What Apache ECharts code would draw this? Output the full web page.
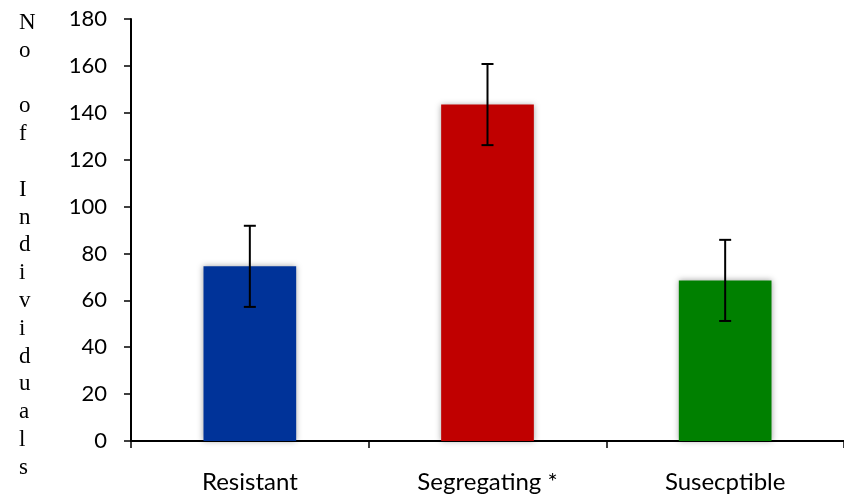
<!DOCTYPE html>
<html>
<head>
<meta charset="utf-8">
<script src="https://cdn.jsdelivr.net/npm/echarts@6/dist/echarts.min.js"></script>
<style>
  html, body { margin: 0; padding: 0; background: #fff; }
  #chart { width: 844px; height: 498px; }
</style>
</head>
<body>
<div id="chart"></div>
<script>
// categories and values
const categories = ['Resistant', 'Segregating *', 'Susecptible'];
const counts = [74.5, 143.5, 68.5];
const errors = [17.3, 17.3, 17.3];
const barColors = ['#003399', '#C00000', '#008000'];
const yTitle = ['N', 'o', '', 'o', 'f', '', 'I', 'n', 'd', 'i', 'v', 'i', 'd', 'u', 'a', 'l', 's'];

const chart = echarts.init(document.getElementById('chart'));

// error bar data: [index, low, high]
const errorData = counts.map((v, i) => [i, v - errors[i], v + errors[i]]);

const option = {
  animation: false,
  title: {
    text: yTitle.join('\n'),
    left: 14,
    top: 4,
    textStyle: {
      fontFamily: '"Liberation Serif", "DejaVu Serif", serif',
      fontSize: 23,
      fontWeight: 'normal',
      color: '#000',
      lineHeight: 27.8,
    },
  },
  grid: {
    left: 131,
    right: -7,
    top: 19,
    bottom: 57,
  },
  xAxis: {
    type: 'category',
    data: categories,
    axisLine: { lineStyle: { color: '#000', width: 2 } },
    axisTick: { show: true, length: 7, lineStyle: { color: '#000', width: 1.5 } },
    axisLabel: {
      color: '#000',
      fontFamily: 'Lato, sans-serif',
      fontSize: 24,
      margin: 29,
    },
  },
  yAxis: {
    type: 'value',
    min: 0,
    max: 180,
    interval: 20,
    axisLine: { show: true, lineStyle: { color: '#000', width: 2 } },
    axisTick: { show: true, length: 7, lineStyle: { color: '#000', width: 1.5 } },
    splitLine: { show: false },
    axisLabel: {
      color: '#000',
      fontFamily: 'Lato, sans-serif',
      fontSize: 22,
      margin: 24,
    },
  },
  series: [
    {
      type: 'bar',
      barWidth: '39%',
      data: counts.map((v, i) => ({
        value: v,
        itemStyle: {
          color: barColors[i],
          shadowColor: 'rgba(0, 0, 0, 0.35)',
          shadowBlur: 6,
        },
      })),
    },
    {
      type: 'custom',
      data: errorData,
      z: 10,
      renderItem: (params, api) => {
        const idx = api.value(0);
        const low = api.coord([idx, api.value(1)]);
        const high = api.coord([idx, api.value(2)]);
        const half = 6;
        const style = { stroke: '#000', lineWidth: 2 };
        return {
          type: 'group',
          children: [
            { type: 'line', shape: { x1: high[0], y1: high[1], x2: low[0], y2: low[1] }, style },
            { type: 'line', shape: { x1: high[0] - half, y1: high[1], x2: high[0] + half, y2: high[1] }, style },
            { type: 'line', shape: { x1: low[0] - half, y1: low[1], x2: low[0] + half, y2: low[1] }, style },
          ],
        };
      },
    },
  ],
};

chart.setOption(option);
</script>
</body>
</html>
